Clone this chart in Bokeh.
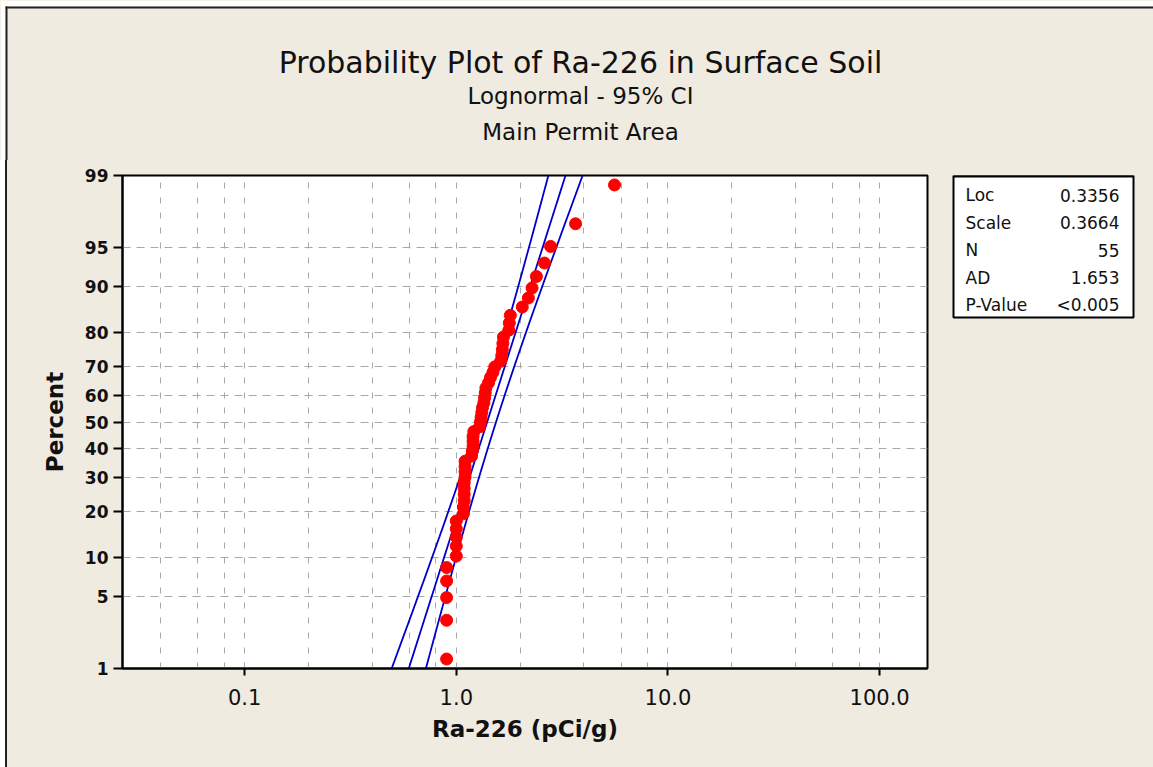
from statistics import NormalDist
import numpy as np
from bokeh.plotting import figure
from bokeh.layouts import column, row
from bokeh.models import Range1d, FixedTicker, PrintfTickFormatter, ColumnDataSource, Spacer
from bokeh.core.properties import value
from bokeh.embed import file_html
from bokeh.resources import INLINE

# ---------------- data ----------------
title_text = "Probability Plot of Ra-226 in Surface Soil"
subtitle_1 = "Lognormal - 95% CI"
subtitle_2 = "Main Permit Area"
x_label = "Ra-226 (pCi/g)"
y_label = "Percent"

# sorted Ra-226 concentrations (pCi/g)
ra226 = [0.90, 0.90, 0.90, 0.90, 0.90,
         1.00, 1.00, 1.00, 1.00, 1.00,
         1.08, 1.08, 1.09, 1.09, 1.09, 1.09, 1.10, 1.10, 1.10, 1.10,
         1.18, 1.19, 1.20, 1.20, 1.20, 1.21,
         1.29, 1.30, 1.31, 1.32, 1.33, 1.35, 1.36, 1.37, 1.38,
         1.42, 1.45, 1.49, 1.52,
         1.62, 1.64, 1.65, 1.66, 1.67,
         1.77, 1.78, 1.80,
         2.05, 2.19, 2.28, 2.39, 2.61, 2.79, 3.66, 5.59]

percent_ticks = [1, 5, 10, 20, 30, 40, 50, 60, 70, 80, 90, 95, 99]
x_major_ticks = [0.1, 1, 10, 100]
x_grid_values = [0.04, 0.06, 0.08, 0.1, 0.2, 0.4, 0.6, 0.8, 1, 2, 4, 6, 8,
                 10, 20, 40, 60, 80, 100]

stat_names = ["Loc", "Scale", "N", "AD", "P-Value"]
stat_values = ["0.3356", "0.3664", "55", "1.653", "<0.005"]
fit_loc = 0.3356
fit_scale = 0.3664
n_obs = 55

BG = "#EFEBE1"
INK = "#111111"
EDGE = "#222222"
FONT = "DejaVu Sans"

# ---------------- derived (probability scale) ----------------
nd = NormalDist()
ranks = np.arange(1, len(ra226) + 1)
plot_pos = [(r - 0.3) / (len(ra226) + 0.4) for r in ranks]      # median ranks
z_pts = [nd.inv_cdf(pp) for pp in plot_pos]

z_ticks = [nd.inv_cdf(pc / 100.0) for pc in percent_ticks]
z_lo, z_hi = z_ticks[0], z_ticks[-1]

z_line = np.linspace(-2.6, 2.6, 261)
zc = 1.959964
se = fit_scale * np.sqrt(1.0 / n_obs + z_line ** 2 / (2.0 * n_obs))
fit_mid = np.exp(fit_loc + fit_scale * z_line)
fit_low = np.exp(fit_loc + fit_scale * z_line - zc * se)
fit_up = np.exp(fit_loc + fit_scale * z_line + zc * se)

# ---------------- title strip (with the picture's top/left edge) ----------------
tf = figure(width=1153, height=160, x_range=Range1d(0, 1153), y_range=Range1d(160, 0),
            output_backend="svg", toolbar_location=None, title=None,
            x_axis_location=None, y_axis_location=None,
            min_border=0, min_border_left=0, min_border_right=0,
            min_border_top=0, min_border_bottom=0,
            outline_line_color=None, background_fill_color=BG, border_fill_color=BG)
tf.grid.visible = False
tf.quad(left=[0, 0], right=[1153, 5], top=[0, 0], bottom=[6, 160],
        fill_color="white", line_color=None)
tf.quad(left=[5, 5], right=[1153, 7], top=[6, 6], bottom=[8, 160],
        fill_color=EDGE, line_color=None)
tf.text(x=[580], y=[62], text=[title_text], text_font=value(FONT), text_font_size=value("30px"),
        text_color=INK, text_align="center", text_baseline="middle")
tf.text(x=[580, 580], y=[95.5, 131.5], text=[subtitle_1, subtitle_2], text_font=value(FONT),
        text_font_size=value("23px"), text_color=INK, text_align="center", text_baseline="middle")

# ---------------- main probability plot ----------------
p = figure(width=933, height=607, x_axis_type="log",
           x_range=Range1d(0.02649, 168.3), y_range=Range1d(z_lo, z_hi),
           output_backend="svg", toolbar_location=None, title=None,
           min_border_left=115, min_border_right=13,
           min_border_top=15, min_border_bottom=99,
           background_fill_color="white", border_fill_color=BG,
           outline_line_color="black", outline_line_width=2)

p.xaxis.ticker = FixedTicker(ticks=x_major_ticks)
p.xaxis.formatter = PrintfTickFormatter(format="%.1f")
p.yaxis.ticker = FixedTicker(ticks=z_ticks)
p.yaxis.major_label_overrides = {z: str(pc) for z, pc in zip(z_ticks, percent_ticks)}

for ax in (p.xaxis[0], p.yaxis[0]):
    ax.axis_line_color = "black"
    ax.axis_line_width = 2
    ax.major_tick_line_color = "black"
    ax.major_tick_line_width = 2
    ax.major_tick_in = 0
    ax.minor_tick_line_color = None
    ax.major_label_text_color = INK
    ax.axis_label_text_color = INK
    ax.major_label_text_font = FONT
    ax.axis_label_text_font = FONT
    ax.axis_label_text_font_style = "bold"
    ax.axis_label_text_font_size = "23px"

p.xaxis.major_tick_out = 7
p.xaxis.major_label_text_font_size = "21px"
p.xaxis.major_label_standoff = 13
p.xaxis.axis_label = x_label
p.xaxis.axis_label_standoff = 8

p.yaxis.major_tick_out = 9
p.yaxis.major_label_text_font_size = "17px"
p.yaxis.major_label_text_font_style = "bold"
p.yaxis.major_label_standoff = 5
p.yaxis.axis_label = y_label
p.yaxis.axis_label_standoff = 14

p.xgrid.ticker = FixedTicker(ticks=x_grid_values)
p.xgrid.grid_line_color = "#A8A8A8"
p.xgrid.grid_line_dash = "6 9"
p.xgrid.grid_line_width = 1
p.ygrid.ticker = FixedTicker(ticks=z_ticks)
p.ygrid.grid_line_color = "#A8A8A8"
p.ygrid.grid_line_dash = "8 6"
p.ygrid.grid_line_width = 1

blue = "#0000CC"
for xs in (fit_low, fit_mid, fit_up):
    p.line(xs, z_line, line_color=blue, line_width=1.8)

src = ColumnDataSource(dict(x=ra226, y=z_pts))
p.scatter("x", "y", source=src, size=12, color="#FF0000")

# ---------------- statistics box (own panel, frame aligned with the plot) ----------------
sb = figure(width=213, height=607, x_range=Range1d(-4, 184), y_range=Range1d(493, 0),
            output_backend="svg", toolbar_location=None, title=None,
            x_axis_location=None, y_axis_location=None,
            min_border_left=9, min_border_right=16, min_border_top=15, min_border_bottom=99,
            background_fill_color=BG, border_fill_color=BG, outline_line_color=None)
sb.grid.visible = False
sb.quad(left=[0], right=[180], top=[0], bottom=[142], fill_color="white",
        line_color="black", line_width=2)
sb.segment(x0=[0], y0=[0], x1=[180], y1=[0], line_color="black", line_width=4)
row_y = [19.5 + 27.5 * i for i in range(len(stat_names))]
sb.text(x=[12] * len(stat_names), y=row_y, text=stat_names, text_font=value(FONT),
        text_font_size=value("17px"), text_color=INK, text_align="left", text_baseline="middle")
sb.text(x=[166] * len(stat_values), y=row_y, text=stat_values, text_font=value(FONT),
        text_font_size=value("17px"), text_color=INK, text_align="right", text_baseline="middle")

edge_white = Spacer(width=5, height=607, styles={"background-color": "white"})
edge_line = Spacer(width=2, height=607, styles={"background-color": EDGE})
body = row(edge_white, edge_line, p, sb, spacing=0, styles={"background-color": BG})
layout = column(tf, body, spacing=0, styles={"background-color": BG})
open("out.html", "w").write(file_html(layout, INLINE))
